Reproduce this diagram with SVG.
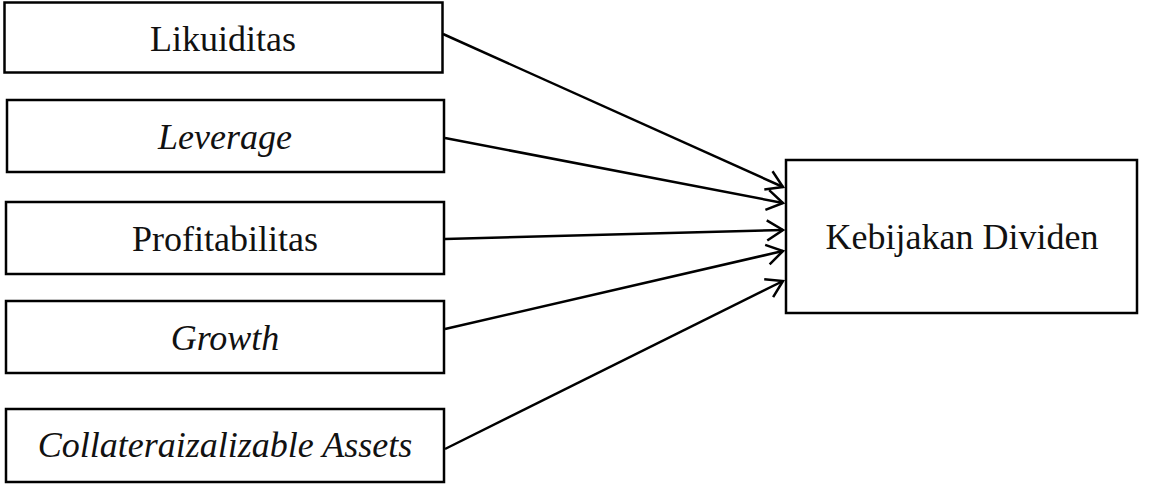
<svg xmlns="http://www.w3.org/2000/svg" width="1156" height="486" viewBox="0 0 1156 486">
<style>
.box{fill:#fff;stroke:#000;stroke-width:2.5}
.lbl{font-family:"Liberation Serif","Times New Roman",serif;font-size:36px;fill:#111;text-anchor:middle}
.it{font-style:italic}
.con{stroke:#000;stroke-width:2.5;fill:none;marker-end:url(#arr)}
</style>
<defs>
<marker id="arr" markerUnits="userSpaceOnUse" markerWidth="30" markerHeight="30" viewBox="-20 -15 30 30" refX="0" refY="0" orient="auto">
<path d="M-16,-10 L0,0 L-16,10" fill="none" stroke="#000" stroke-width="2.5"/>
</marker>
</defs>
<rect width="1156" height="486" fill="#fff"/>
<g id="n1"><rect class="box" x="4.5" y="2.5" width="438" height="70"/><text class="lbl" x="223" y="51">Likuiditas</text></g>
<g id="n2"><rect class="box" x="7" y="100" width="437" height="72"/><text class="lbl it" x="225" y="149">Leverage</text></g>
<g id="n3"><rect class="box" x="6" y="202" width="438" height="72"/><text class="lbl" x="225" y="251">Profitabilitas</text></g>
<g id="n4"><rect class="box" x="6" y="301" width="438" height="72"/><text class="lbl it" x="225" y="350">Growth</text></g>
<g id="n5"><rect class="box" x="6" y="409" width="438" height="73"/><text class="lbl it" x="225" y="457">Collateraizalizable Assets</text></g>
<g id="n6"><rect class="box" x="786" y="160" width="351" height="153"/><text class="lbl" x="962" y="249">Kebijakan Dividen</text></g>
<g id="connectors">
<line class="con" x1="443" y1="34" x2="783" y2="187"/>
<line class="con" x1="445" y1="138" x2="783" y2="203"/>
<line class="con" x1="445" y1="239" x2="783" y2="230"/>
<line class="con" x1="445" y1="329" x2="783" y2="251"/>
<line class="con" x1="445" y1="449" x2="783" y2="281"/>
</g>
</svg>
